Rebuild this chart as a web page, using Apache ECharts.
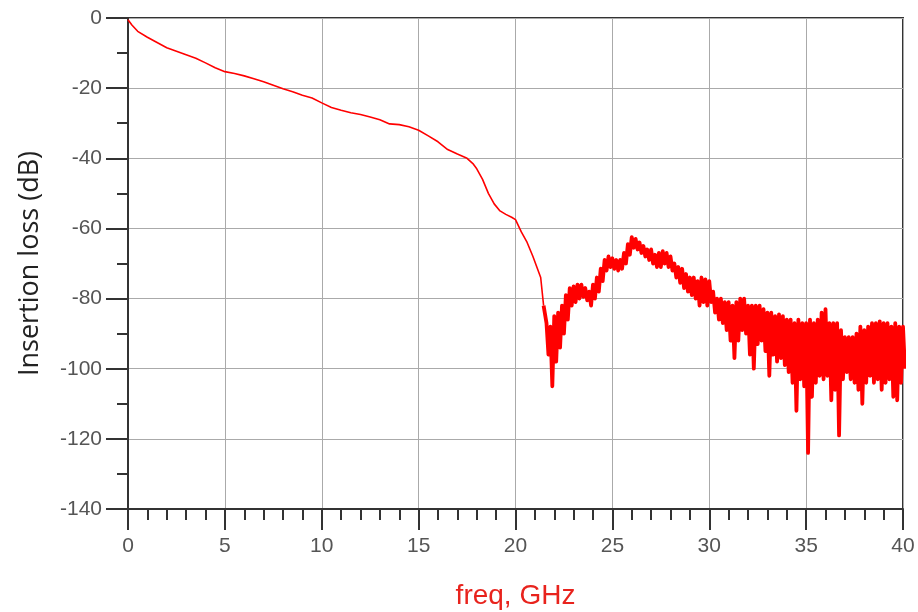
<!DOCTYPE html>
<html><head><meta charset="utf-8">
<script src="https://cdn.jsdelivr.net/npm/echarts@6/dist/echarts.min.js"></script>
<style>html,body{margin:0;padding:0;background:#fff}#c{width:918px;height:612px}</style>
</head><body><div id="c"></div>
<script>
// Smooth part of the trace (GHz, dB)
const smoothFreq = [0, 0.2, 0.5, 1, 1.5, 2, 2.5, 3, 3.5, 4, 4.5, 5, 5.5, 6, 6.5, 7, 7.5, 8, 8.5, 9, 9.5, 10,
  10.5, 11, 11.5, 12, 12.5, 13, 13.5, 14, 14.5, 15, 15.5, 16, 16.5, 17, 17.5, 17.8, 18, 18.3, 18.6, 18.9,
  19.2, 19.5, 19.8, 20, 20.3, 20.6, 20.9, 21.1, 21.3, 21.45];
const smoothLoss = [-0.5, -2, -3.8, -5.5, -7, -8.5, -9.5, -10.5, -11.5, -12.8, -14.2, -15.3, -15.8, -16.5, -17.3, -18.2, -19.2, -20.2, -21, -22, -22.8, -24.2,
  -25.5, -26.3, -27, -27.5, -28.2, -29, -30.2, -30.4, -31, -32, -33.6, -35.3, -37.5, -38.8, -40, -41.5, -43, -46, -50, -53,
  -55, -56, -56.8, -57.5, -61, -64, -68, -71, -74, -82];

// Noisy band (21.6 .. 40 GHz every 0.2 GHz): upper and lower envelope
const bandStart = 21.6, bandStep = 0.2;
const bandTop = [-87, -88, -85, -84, -82, -79, -77, -76.5, -76, -76, -77, -78, -76, -74, -71.5, -69, -68, -68.5, -69, -69,
  -67, -64.5, -62.5, -63, -64, -65, -66, -66, -67.5, -67, -66.5, -67, -68, -70, -71, -71.5, -73, -74, -74, -75,
  -74, -74.5, -75, -78, -80, -80, -81, -81, -82, -81, -80, -80, -82, -82, -82, -82, -83, -84, -84, -85,
  -84.5, -85, -86, -86, -87, -86, -87, -87, -86, -87, -86, -84, -83, -87, -87, -87, -89, -91, -91, -91,
  -90, -88, -89, -88, -87, -87, -86.5, -87, -87, -88, -87, -88, -88];
const bandBottom = [-96, -105, -98, -94, -90, -86, -82, -81, -80, -79.5, -80.5, -82, -80, -78, -75, -72, -71, -71.5, -72, -71.5,
  -70, -67.5, -65.5, -66, -67, -68, -69, -70, -71, -71, -70, -71, -72, -74, -75.5, -77, -78, -79, -80, -82,
  -81, -82, -81, -84, -86, -87, -89, -92, -97, -92, -89, -90, -96, -100, -93, -92, -95, -102, -96, -98,
  -97, -99, -101, -104, -112, -103, -105, -124, -108, -104, -102, -103, -102, -109, -106, -119, -103, -101, -103, -104,
  -106, -110, -104, -102, -104, -103, -106, -104, -103, -108, -109, -104, -100];

const smoothData = smoothFreq.map((f, i) => [f, smoothLoss[i]]);
const bandData = [smoothData[smoothData.length - 1]];
bandTop.forEach((t, i) => {
  const f = +(bandStart + i * bandStep).toFixed(2);
  bandData.push([f, t]);
  bandData.push([+(f + bandStep / 2).toFixed(2), bandBottom[i]]);
});

const chart = echarts.init(document.getElementById('c'), null, {renderer: 'canvas'});
const tickColor = '#333';
chart.setOption({
  animation: false,
  backgroundColor: '#fff',
  grid: {left: 128, right: 15, top: 18, bottom: 103, show: true, borderColor: '#333', borderWidth: 2,
    containLabel: false, outerBoundsMode: 'none'},
  xAxis: {
    type: 'value', min: 0, max: 40, interval: 5,
    name: 'freq, GHz', nameLocation: 'middle', nameGap: 73,
    nameTextStyle: {color: '#e8231d', fontSize: 28, fontFamily: 'Liberation Sans'},
    axisLine: {onZero: false, lineStyle: {color: tickColor, width: 2}},
    axisTick: {length: 21, lineStyle: {color: tickColor, width: 2}},
    minorTick: {show: true, splitNumber: 5, length: 11, lineStyle: {color: tickColor, width: 2}},
    axisLabel: {margin: 27, color: '#555', fontSize: 21, fontFamily: 'Liberation Sans'},
    splitLine: {show: true, lineStyle: {color: '#aaa', width: 1}}
  },
  yAxis: {
    type: 'value', min: -140, max: 0, interval: 20,
    name: 'Insertion loss (dB)', nameLocation: 'middle', nameGap: 84,
    nameTextStyle: {color: '#222', fontSize: 27, fontFamily: 'Open Sans'},
    axisLine: {onZero: false, lineStyle: {color: tickColor, width: 2}},
    axisTick: {length: 22, lineStyle: {color: tickColor, width: 2}},
    minorTick: {show: true, splitNumber: 2, length: 11, lineStyle: {color: tickColor, width: 2}},
    axisLabel: {margin: 26, color: '#555', fontSize: 21, fontFamily: 'Liberation Sans'},
    splitLine: {show: true, lineStyle: {color: '#aaa', width: 1}}
  },
  series: [{
    type: 'line', data: smoothData, showSymbol: false, clip: true,
    lineStyle: {color: '#ff0000', width: 1.6}
  }, {
    type: 'line', data: bandData, showSymbol: false, clip: true,
    lineStyle: {color: '#ff0000', width: 3.8, join: 'round'}
  }]
});
</script>
</body></html>
